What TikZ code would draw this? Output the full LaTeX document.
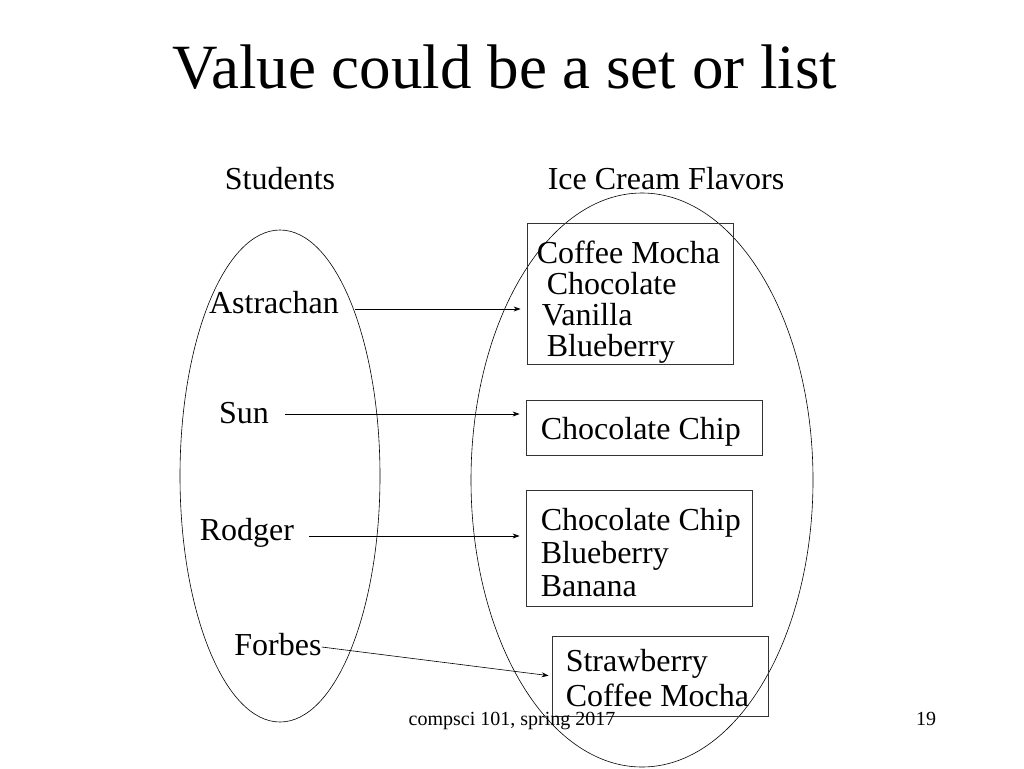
\documentclass[tikz,border=0pt]{standalone}
\usepackage{fontspec}
\setmainfont{Liberation Serif}
\usetikzlibrary{arrows.meta}

\tikzset{
    big/.style={font=\fontsize{32}{#1}\selectfont},
    big/.default=32,
    student/.style={big, inner sep=0pt, anchor=base},
    flavbox/.style={draw=black!80, line width=0.8pt, inner sep=0pt},
    flavlist/.style={big=#1, inner sep=0pt, anchor=north west, align=left},
    maps/.style={-{Stealth[length=7pt,width=5pt]}, line width=0.6pt},
    set/.style={line width=0.6pt},
}

\begin{document}
\begin{tikzpicture}[x=1pt,y=-1pt]

    \useasboundingbox (0,0) rectangle (1024,768);

    \node (title) [font=\fontsize{63}{63}\selectfont, inner sep=0pt, anchor=base] at (505,88) {Value could be a set or list};

    \node (students) [student] at (280,189) {Students};
    \node (flavors)  [student] at (666,189) {Ice Cream Flavors};

    % the two sets
    \draw[set] (280,476) ellipse [x radius=100, y radius=246];
    \draw[set] (642,480) ellipse [x radius=171, y radius=287];

    \node (astrachan) [student] at (274,313) {Astrachan};
    \node (sun)       [student] at (244,423) {Sun};
    \node (rodger)    [student] at (247,540) {Rodger};
    \node (forbes)    [student] at (278,655) {Forbes};

    \node (box1) [flavbox, minimum width=206, minimum height=141] at (630,293.5) {};
    \node (box2) [flavbox, minimum width=236, minimum height=55]  at (644,427.5) {};
    \node (box3) [flavbox, minimum width=226, minimum height=116] at (639,548) {};
    \node (box4) [flavbox, minimum width=216, minimum height=80]  at (660,676) {};

    \node (list1) [flavlist=31] at ([shift={(10,18)}]box1.north west)
        {Coffee Mocha\\ \hspace*{10pt}Chocolate\\ \hspace*{5pt}Vanilla\\ \hspace*{10pt}Blueberry};
    \node (list2) [flavlist] at ([shift={(15,17)}]box2.north west) {Chocolate Chip};
    \node (list3) [flavlist=33] at ([shift={(15,18)}]box3.north west)
        {Chocolate Chip\\ Blueberry\\ Banana};
    \node (list4) [flavlist=35] at ([shift={(14,13)}]box4.north west)
        {Strawberry\\ Coffee Mocha};

    % student -> value
    \draw[maps, shorten <=16pt, shorten >=6pt] ([yshift=4pt]astrachan.base east) -- ([yshift=4pt]astrachan.base east -| box1.west);
    \draw[maps, shorten <=16pt, shorten >=6pt] ([yshift=9pt]sun.base east) -- ([yshift=9pt]sun.base east -| box2.west);
    \draw[maps, shorten <=15pt, shorten >=6pt] ([yshift=4pt]rodger.base east) -- ([yshift=4pt]rodger.base east -| box3.west);
    \draw[maps, shorten >=3pt] ([yshift=8pt]forbes.base east) -- (box4.west);

    \node (footer) [font=\fontsize{20}{20}\selectfont, inner sep=0pt, anchor=base] at (512,725) {compsci 101, spring 2017};
    \node (page)   [font=\fontsize{20}{20}\selectfont, inner sep=0pt, anchor=base] at (926,725) {19};

\end{tikzpicture}
\end{document}
